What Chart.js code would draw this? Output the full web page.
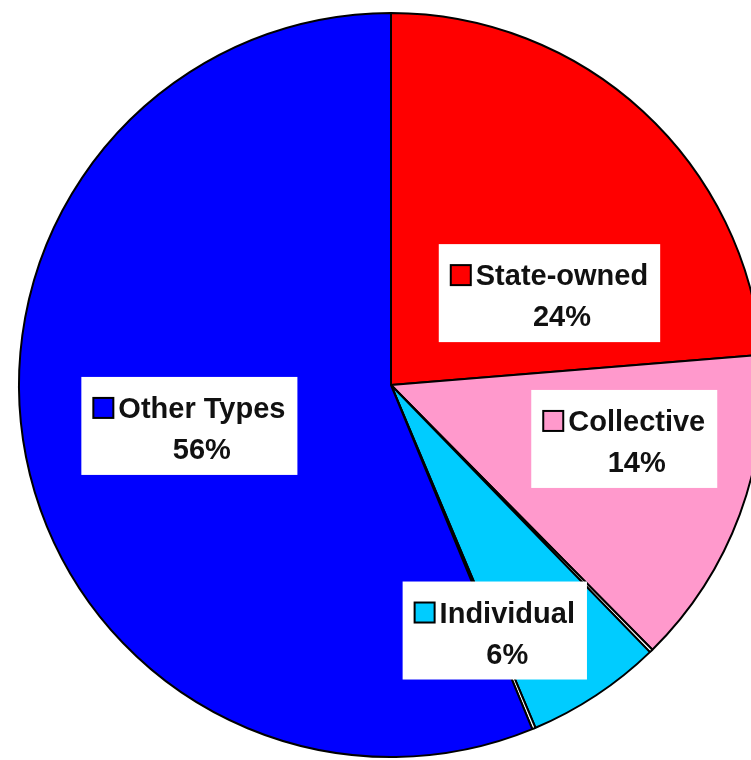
<!DOCTYPE html>
<html>
<head>
<meta charset="utf-8">
<script src="https://cdn.jsdelivr.net/npm/chart.js@4/dist/chart.umd.min.js"></script>
<style>
  html, body { margin: 0; padding: 0; background: #fff; overflow: hidden; }
  #wrap { width: 751px; height: 760px; overflow: hidden; }
</style>
</head>
<body>
<div id="wrap"><canvas id="pie-chart" width="782" height="760"></canvas></div>
<script>
// ownership shares (the two tiny slivers are unlabelled)
var categories = ["State-owned", "Collective", "", "Individual", "", "Other Types"];
var shares = [23.7, 13.9, 0.15, 5.9, 0.15, 56.2];
var colours = ["#FF0000", "#FF99CC", "#FFFFFF", "#00CCFF", "#FFFFFF", "#0000FF"];

// where each label box sits, as a fraction of the radius from the centre
var labelSpots = [[0.426, -0.247], [0.627, 0.145], null, [0.279, 0.660], null, [-0.542, 0.110]];

var boxLabels = {
	id: 'boxLabels',
	afterDraw: function(chart) {
		var ctx = chart.ctx;
		var meta = chart.getDatasetMeta(0);
		var total = shares.reduce(function(a, b) { return a + b; }, 0);
		ctx.save();
		ctx.font = 'bold 29px "Liberation Sans", Arial, sans-serif';
		ctx.textBaseline = 'middle';
		meta.data.forEach(function(arc, i) {
			if (!labelSpots[i]) return;
			var r = arc.outerRadius;
			var cx = arc.x + labelSpots[i][0] * r;
			var cy = arc.y + labelSpots[i][1] * r;
			var name = categories[i];
			var pct = Math.round(shares[i] / total * 100) + '%';
			var tw = ctx.measureText(name).width;
			var sq = 20, gap = 5, pad = 12;
			var w = sq + gap + tw + pad * 2;
			var h = 98;
			var left = cx - w / 2, top = cy - h / 2;
			ctx.fillStyle = '#fff';
			ctx.fillRect(left, top, w, h);
			// legend key
			ctx.fillStyle = colours[i];
			ctx.fillRect(left + pad, top + 21, sq, sq);
			ctx.lineWidth = 2;
			ctx.strokeStyle = '#000';
			ctx.strokeRect(left + pad, top + 21, sq, sq);
			ctx.fillStyle = '#111';
			ctx.textAlign = 'left';
			var tx = left + pad + sq + gap;
			ctx.fillText(name, tx, top + 33);
			ctx.textAlign = 'center';
			ctx.fillText(pct, tx + tw / 2, top + 74);
		});
		ctx.restore();
	}
};

new Chart(document.getElementById("pie-chart"), {
	type: 'pie',
	data: {
		labels: categories,
		datasets: [{
			data: shares,
			backgroundColor: colours,
			borderColor: '#000',
			borderWidth: 2
		}]
	},
	options: {
		responsive: false,
		animation: false,
		layout: { padding: { top: 12, bottom: 2 } },
		plugins: {
			legend: { display: false },
			tooltip: { enabled: false }
		}
	},
	plugins: [boxLabels]
});
</script>
</body>
</html>
